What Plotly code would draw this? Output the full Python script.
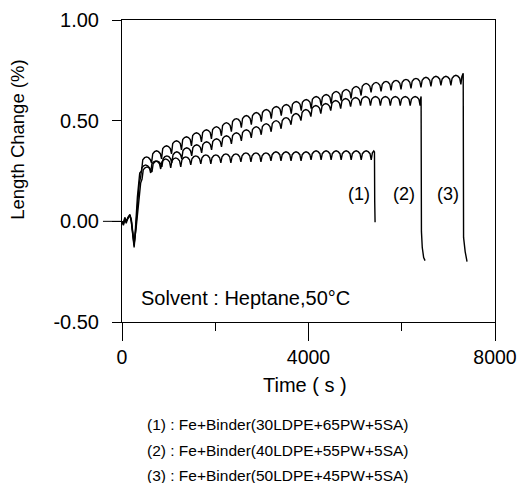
import plotly.graph_objects as go

# ---------------- data ----------------
# initial transient (t in s, length change in %)
head1_t = [0, 30, 60, 90, 130, 170, 200, 230, 260, 290, 330, 370]
head1_v = [0.0, -0.02, 0.01, -0.01, 0.02, 0.035, 0.0, -0.08, -0.13, -0.05, 0.10, 0.19]
head2_t = [0, 30, 60, 90, 130, 170, 200, 230, 260, 300, 350, 400]
head2_v = [0.0, -0.015, 0.015, 0.0, 0.015, 0.03, 0.01, -0.06, -0.11, -0.04, 0.08, 0.19]
head3_t = [0, 30, 60, 90, 130, 170, 200, 230, 260, 290, 330, 380]
head3_v = [0.0, -0.01, 0.02, 0.0, 0.02, 0.03, 0.0, -0.07, -0.12, -0.03, 0.12, 0.24]

# scallops: cusp times, cusp values, arch peak values
cusp1_t = [400, 615, 830, 1045, 1260, 1475, 1690, 1905, 2120, 2335, 2550, 2765, 2980,
           3195, 3410, 3625, 3840, 4055, 4270, 4485, 4700, 4915, 5130, 5345]
cusp1_v = [0.22, 0.24, 0.26, 0.265, 0.27, 0.28, 0.285, 0.285, 0.29, 0.29, 0.295, 0.295,
           0.295, 0.30, 0.30, 0.30, 0.30, 0.305, 0.305, 0.305, 0.305, 0.305, 0.305, 0.305]
peak1_v = [0.28, 0.30, 0.31, 0.315, 0.32, 0.325, 0.33, 0.33, 0.335, 0.335, 0.34, 0.34,
           0.34, 0.345, 0.345, 0.345, 0.345, 0.35, 0.35, 0.35, 0.35, 0.35, 0.35]

cusp2_t = [430, 643, 856, 1069, 1282, 1495, 1708, 1921, 2134, 2347, 2560, 2773, 2986,
           3199, 3412, 3625, 3838, 4051, 4264, 4477, 4690, 4903, 5116, 5329, 5542, 5755,
           5968, 6181, 6394]
cusp2_v = [0.21, 0.245, 0.27, 0.29, 0.31, 0.325, 0.34, 0.355, 0.37, 0.385, 0.40, 0.415,
           0.43, 0.445, 0.46, 0.48, 0.50, 0.52, 0.535, 0.55, 0.56, 0.57, 0.575, 0.575,
           0.575, 0.575, 0.575, 0.575, 0.575]
peak2_v = [0.27, 0.30, 0.325, 0.345, 0.365, 0.38, 0.395, 0.41, 0.425, 0.44, 0.455, 0.47,
           0.485, 0.50, 0.515, 0.535, 0.555, 0.575, 0.585, 0.60, 0.61, 0.615, 0.62, 0.62,
           0.62, 0.62, 0.62, 0.62]

cusp3_t = [420, 634, 848, 1062, 1276, 1490, 1704, 1918, 2132, 2346, 2560, 2774, 2988,
           3202, 3416, 3630, 3844, 4058, 4272, 4486, 4700, 4914, 5128, 5342, 5556, 5770,
           5984, 6198, 6412, 6626, 6840, 7054, 7268]
cusp3_v = [0.25, 0.29, 0.31, 0.335, 0.355, 0.375, 0.395, 0.41, 0.425, 0.445, 0.465, 0.48,
           0.495, 0.51, 0.525, 0.535, 0.55, 0.56, 0.575, 0.585, 0.60, 0.61, 0.625, 0.64,
           0.645, 0.65, 0.655, 0.66, 0.665, 0.67, 0.675, 0.675, 0.68]
peak3_v = [0.32, 0.35, 0.375, 0.40, 0.42, 0.44, 0.455, 0.47, 0.49, 0.51, 0.525, 0.54,
           0.555, 0.57, 0.58, 0.595, 0.605, 0.62, 0.63, 0.645, 0.655, 0.67, 0.685, 0.69,
           0.695, 0.70, 0.705, 0.71, 0.715, 0.72, 0.72, 0.725]

# final drop when the sample is removed
tail1_t = [5370, 5400, 5415, 5420, 5428]
tail1_v = [0.34, 0.35, 0.345, 0.10, -0.005]
tail2_t = [6405, 6415, 6418, 6422, 6440, 6470, 6500]
tail2_v = [0.61, 0.62, 0.30, -0.05, -0.13, -0.18, -0.195]
tail3_t = [7290, 7310, 7318, 7322, 7326, 7360, 7400]
tail3_v = [0.72, 0.73, 0.735, 0.30, -0.08, -0.15, -0.20]

curve_labels = ["(1)", "(2)", "(3)"]
label_t = [5365, 6330, 7275]
label_v = [0.135, 0.135, 0.135]
legend_lines = ["(1) : Fe+Binder(30LDPE+65PW+5SA)",
                "(2) : Fe+Binder(40LDPE+55PW+5SA)",
                "(3) : Fe+Binder(50LDPE+45PW+5SA)"]
x_ticks = [0, 4000, 8000]
y_ticks = [-0.5, 0.0, 0.5, 1.0]
y_ticktext = ["-0.50", "0.00", "0.50", "1.00"]

# arch shape within one cycle (fraction of period, drop below peak) - styling only
ARCH = [(0.12, 0.014), (0.3, 0.004), (0.5, 0.0), (0.7, 0.004), (0.88, 0.014)]


def build(head_t, head_v, ct, cv, pv, tt, tv):
    xs, ys = list(head_t), list(head_v)
    for i in range(len(pv)):
        t0, t1 = ct[i], ct[i + 1]
        xs.append(t0); ys.append(cv[i])
        for f, d in ARCH:
            xs.append(t0 + f * (t1 - t0)); ys.append(pv[i] - d)
    xs.append(ct[-1]); ys.append(cv[-1])
    xs += tt; ys += tv
    return xs, ys


fig = go.Figure()
for args in [(head1_t, head1_v, cusp1_t, cusp1_v, peak1_v, tail1_t, tail1_v),
             (head2_t, head2_v, cusp2_t, cusp2_v, peak2_v, tail2_t, tail2_v),
             (head3_t, head3_v, cusp3_t, cusp3_v, peak3_v, tail3_t, tail3_v)]:
    xs, ys = build(*args)
    fig.add_trace(go.Scatter(x=xs, y=ys, mode="lines",
                             line=dict(color="black", width=1.4), showlegend=False))

FONT = "Arial, Liberation Sans, sans-serif"

for lab, t, v in zip(curve_labels, label_t, label_v):
    fig.add_annotation(x=t, y=v, text=lab, showarrow=False, xanchor="right",
                       yanchor="middle",
                       font=dict(family=FONT, size=18, color="black"))

fig.add_annotation(x=365, y=-0.38, text="Solvent : Heptane,50°C", showarrow=False,
                   xanchor="left", yanchor="middle",
                   font=dict(family=FONT, size=20, color="black"))

fig.add_annotation(xref="paper", yref="paper", x=-0.279, y=0.603, text="Length Change (%)",
                   textangle=-90, showarrow=False, xanchor="center", yanchor="middle",
                   font=dict(family=FONT, size=18.5, color="black"))
fig.add_annotation(xref="paper", yref="paper", x=0.49, y=-0.209, text="Time ( s )",
                   showarrow=False, xanchor="center", yanchor="middle",
                   font=dict(family=FONT, size=20, color="black"))
for k, line in enumerate(legend_lines):
    fig.add_annotation(xref="paper", yref="paper", x=0.416, y=-0.341 - 0.083 * k,
                       text=line, showarrow=False, xanchor="center", yanchor="middle",
                       font=dict(family=FONT, size=15.5, color="black"))

# longer tick at 0.00
fig.add_shape(type="line", xref="paper", yref="y", x0=-0.051, x1=0, y0=0, y1=0,
              line=dict(color="black", width=1))

fig.update_layout(
    width=517, height=483,
    margin=dict(l=122, r=22, t=20, b=161, autoexpand=False),
    paper_bgcolor="white", plot_bgcolor="white",
    xaxis=dict(range=[0, 8000], tickvals=x_ticks, ticktext=[str(v) for v in x_ticks],
               ticks="outside", ticklen=18, tickcolor="black", tickwidth=1,
               ticklabeloverflow="allow", automargin=False,
               showline=True, linecolor="black", linewidth=1, mirror=True,
               showgrid=False, zeroline=False,
               tickfont=dict(family=FONT, size=19.5, color="black"),
               minor=dict(tickvals=[2000, 6000], ticks="outside", ticklen=8,
                          tickcolor="black", showgrid=False)),
    yaxis=dict(range=[-0.5, 1.0], tickvals=y_ticks, ticktext=y_ticktext,
               ticks="outside", ticklen=9, tickcolor="black", tickwidth=1,
               ticklabelstandoff=9, automargin=False,
               showline=True, linecolor="black", linewidth=1, mirror=True,
               showgrid=False, zeroline=False,
               tickfont=dict(family=FONT, size=20, color="black")),
)

fig.write_html("out.html")
